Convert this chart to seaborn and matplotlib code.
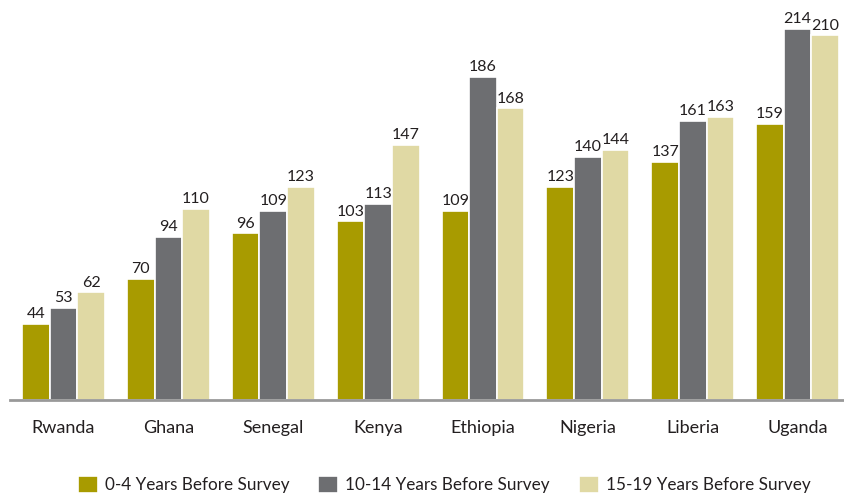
import matplotlib.pyplot as plt
import seaborn as sns
import pandas as pd

countries = ['Rwanda', 'Ghana', 'Senegal', 'Kenya', 'Ethiopia', 'Nigeria', 'Liberia', 'Uganda']
period_labels = ['0-4 Years Before Survey', '10-14 Years Before Survey', '15-19 Years Before Survey']
vals_0_4 = [44, 70, 96, 103, 109, 123, 137, 159]
vals_10_14 = [53, 94, 109, 113, 186, 140, 161, 214]
vals_15_19 = [62, 110, 123, 147, 168, 144, 163, 210]
colors = ['#A89B00', '#6D6E71', '#E0D9A4']

rows = []
for lab, vals in zip(period_labels, [vals_0_4, vals_10_14, vals_15_19]):
    for c, v in zip(countries, vals):
        rows.append({'country': c, 'period': lab, 'value': v})
df = pd.DataFrame(rows)

sns.set_style('white')
plt.rcParams['font.family'] = ['Lato', 'DejaVu Sans']

fig = plt.figure(figsize=(8.45, 4.94), dpi=100)
ax = fig.add_axes([0.0118, 0.19, 0.988, 0.812])
sns.barplot(data=df, x='country', y='value', hue='period', palette=colors,
            width=0.79, edgecolor='white', linewidth=1.2, saturation=1, ax=ax)

for cont in ax.containers:
    ax.bar_label(cont, fontsize=11.5, color='#231F20', padding=2)

ax.set_xlim(-0.51, 7.45)
ax.set_ylim(0, 231)
ax.set_yticks([])
ax.set_xlabel('')
ax.set_ylabel('')
ax.tick_params(axis='x', length=0, labelsize=13, pad=14, labelcolor='#231F20')
for s in ['top', 'right', 'left']:
    ax.spines[s].set_visible(False)
ax.spines['bottom'].set_color('#999999')
ax.spines['bottom'].set_linewidth(2)

ax.legend(loc='lower center', bbox_to_anchor=(0.52, -0.27), ncol=3, frameon=False,
          fontsize=12.3, handlelength=1.17, handleheight=1.2, handletextpad=0.4,
          columnspacing=1.7, labelcolor='#231F20')

fig.savefig('out.png', dpi=100)
